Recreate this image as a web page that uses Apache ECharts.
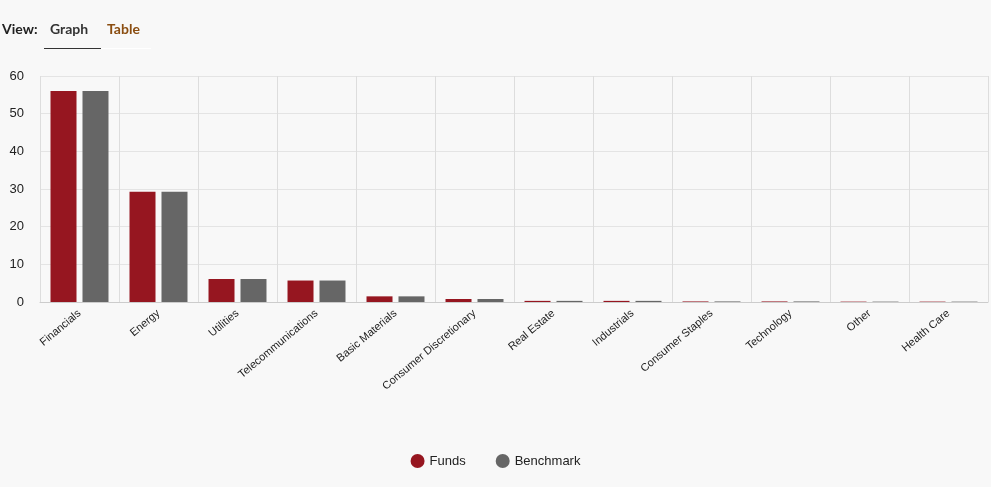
<!DOCTYPE html>
<html><head><meta charset="utf-8">
<script src="https://cdn.jsdelivr.net/npm/echarts@6/dist/echarts.min.js"></script>
<style>
html,body{margin:0;padding:0;background:#f8f8f8;width:991px;height:487px;overflow:hidden;font-family:Lato,"Open Sans",sans-serif}
#hdr{position:absolute;left:0;top:18px;font-size:14px;font-weight:bold}
#hdr .v{position:absolute;left:2px;top:2px;color:#222}
#hdr .g{position:absolute;left:50px;top:2px;color:#333}
#hdr .t{position:absolute;left:107px;top:2px;color:#8a4d10}
#u1{position:absolute;left:44px;top:48px;width:57px;height:1px;background:#333}
#u2{position:absolute;left:101px;top:48px;width:50px;height:1px;background:#fff}
#c{position:absolute;left:0;top:0;width:991px;height:487px}
</style></head><body>
<div id="c"></div>
<div id="hdr"><span class="v">View:</span><span class="g">Graph</span><span class="t">Table</span></div>
<div id="u1"></div><div id="u2"></div>
<script>
const categories=["Financials","Energy","Utilities","Telecommunications","Basic Materials","Consumer Discretionary","Real Estate","Industrials","Consumer Staples","Technology","Other","Health Care"];
const funds=[56,29.3,6.1,5.7,1.5,0.8,0.3,0.3,0.15,0.15,0.1,0.1];
const benchmark=[56,29.3,6.1,5.7,1.5,0.8,0.3,0.3,0.15,0.15,0.1,0.1];
const yTicks=[0,10,20,30,40,50,60];
const ch=echarts.init(document.getElementById('c'));
ch.setOption({
 backgroundColor:'transparent',
 animation:false,
 grid:{left:40,right:3,top:76,bottom:185},
 legend:{bottom:14,left:'center',icon:'circle',itemWidth:14,itemHeight:14,itemGap:30,
   textStyle:{fontFamily:'Arial',fontSize:13,color:'#222'},data:['Funds','Benchmark']},
 xAxis:{type:'category',data:categories,
   axisLine:{lineStyle:{color:'#ccc'}},axisTick:{show:false},
   splitLine:{show:true,lineStyle:{color:'#ddd'}},
   axisLabel:{rotate:40,interval:0,fontFamily:'Arial',fontSize:11,color:'#222',margin:10}},
 yAxis:{type:'value',min:yTicks[0],max:yTicks[yTicks.length-1],interval:10,
   axisLine:{show:false},axisTick:{show:false},
   splitLine:{lineStyle:{color:'#e4e4e4'}},
   axisLabel:{fontFamily:'Arial',fontSize:13,color:'#222',margin:16}},
 series:[
  {name:'Funds',type:'bar',data:funds,itemStyle:{color:'#961620'},barWidth:26,barGap:'23%'},
  {name:'Benchmark',type:'bar',data:benchmark,itemStyle:{color:'#666666'},barWidth:26}
 ]
});
</script></body></html>
